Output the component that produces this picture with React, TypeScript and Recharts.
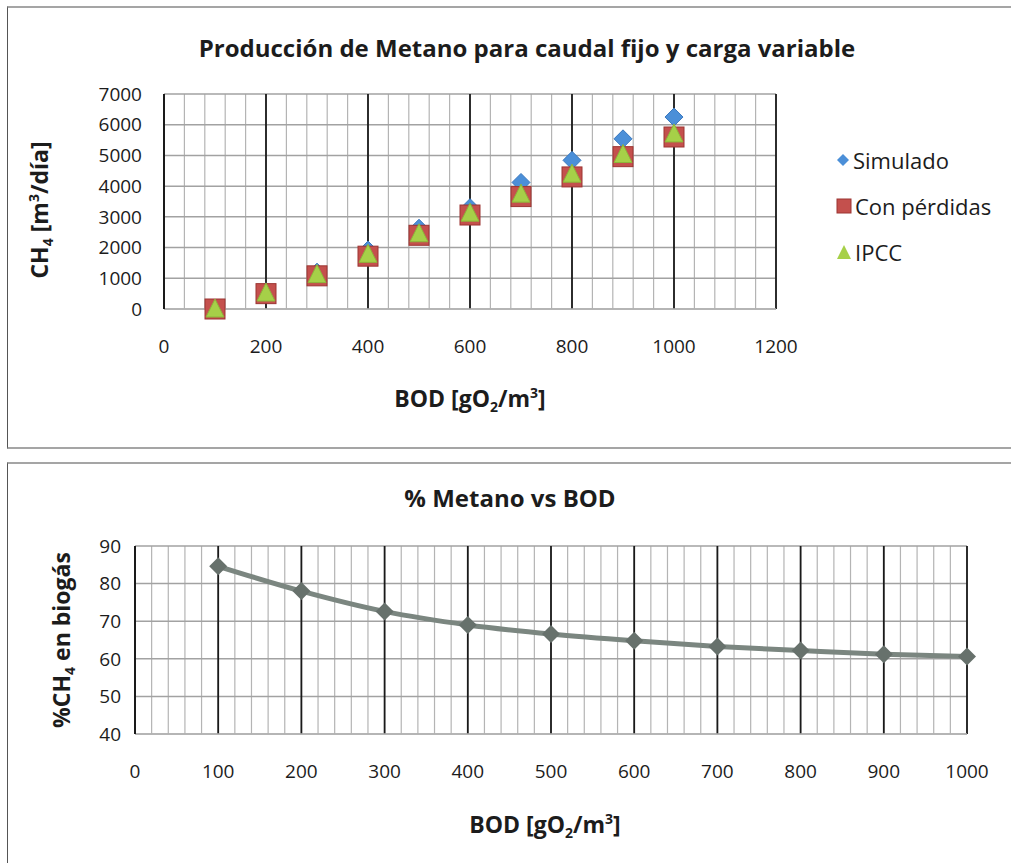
import { ScatterChart, Scatter, LineChart, Line, XAxis, YAxis, CartesianGrid } from "recharts";

// BOD levels [gO2/m3]
const bodLevels = [100, 200, 300, 400, 500, 600, 700, 800, 900, 1000];

// CH4 production [m3/día]
const simulado = [30, 560, 1200, 1920, 2630, 3300, 4120, 4840, 5540, 6250];
const conPerdidas = [0, 500, 1080, 1720, 2400, 3060, 3660, 4300, 4960, 5600];
const ipcc = [0, 520, 1120, 1780, 2450, 3120, 3740, 4390, 5030, 5700];

// % CH4 in biogas
const methanePct = [84.6, 78.0, 72.6, 69.0, 66.6, 64.8, 63.3, 62.2, 61.2, 60.6];

const topXTicks = [0, 200, 400, 600, 800, 1000, 1200];
const topYTicks = [0, 1000, 2000, 3000, 4000, 5000, 6000, 7000];
const bottomXTicks = [0, 100, 200, 300, 400, 500, 600, 700, 800, 900, 1000];
const bottomYTicks = [40, 50, 60, 70, 80, 90];

const seriesNames = ["Simulado", "Con pérdidas", "IPCC"];

const FONT = "'Open Sans', sans-serif";
const TEXT = "#1c1c1c";
const GRID = "#b4b4b4";
const MAJOR = "#1a1a1a";

const minorTicks = (max: number, step: number) =>
  Array.from({ length: Math.round(max / step) + 1 }, (_, i) => i * step);

// minor vertical grid positions through the x axis scale
const minorGrid = (ticks: number[]) => (props: any) => {
  const axis = props.xAxis;
  const scale = axis?.scale;
  if (typeof scale === "function") return ticks.map((t) => scale(t));
  if (scale && typeof scale.map === "function") return ticks.map((t) => scale.map(t));
  return [];
};

const topRows = (values: number[]) => bodLevels.map((x, i) => ({ x, y: values[i] }));
const bottomRows = bodLevels.map((x, i) => ({ x, y: methanePct[i] }));

function DiamondShape(props: any) {
  const { cx, cy } = props;
  return (
    <polygon
      points={`${cx},${cy - 9} ${cx + 9},${cy} ${cx},${cy + 9} ${cx - 9},${cy}`}
      fill="#4b8fd8"
      stroke="#3a78bf"
      strokeWidth={1}
    />
  );
}

function SquareShape(props: any) {
  const { cx, cy } = props;
  return <rect x={cx - 10} y={cy - 10} width={20} height={20} fill="#c4504d" stroke="#9c3532" strokeWidth={1} />;
}

function TriangleShape(props: any) {
  const { cx, cy } = props;
  return (
    <polygon
      points={`${cx},${cy - 10} ${cx + 9},${cy + 8} ${cx - 9},${cy + 8}`}
      fill="#a6d048"
      stroke="#8db53a"
      strokeWidth={1}
    />
  );
}

function GreyDiamondDot(props: any) {
  const { cx, cy } = props;
  if (cx == null || cy == null) return null;
  return (
    <polygon
      points={`${cx},${cy - 9} ${cx + 9},${cy} ${cx},${cy + 9} ${cx - 9},${cy}`}
      fill="#67716c"
    />
  );
}

const legendIcons = [
  <svg width="14" height="14" key="d">
    <polygon points="7,1 13,7 7,13 1,7" fill="#4b8fd8" />
  </svg>,
  <svg width="16" height="16" key="s">
    <rect x="1" y="1" width="14" height="14" fill="#c4504d" stroke="#9c3532" />
  </svg>,
  <svg width="16" height="16" key="t">
    <polygon points="8,1 15,15 1,15" fill="#a6d048" />
  </svg>,
];

const tickStyle = { fill: TEXT, fontSize: 19, fontFamily: FONT };

function TopChart() {
  return (
    <div style={{ position: "absolute", left: 0, top: 0 }}>
      <ScatterChart width={1011} height={445} margin={{ top: 94, right: 235, bottom: 106, left: 104 }}>
        <XAxis
          type="number"
          dataKey="x"
          domain={[0, 1200]}
          ticks={topXTicks}
          interval={0}
          height={30}
          tickSize={0}
          tickMargin={31}
          tick={tickStyle}
          axisLine={{ stroke: GRID, strokeWidth: 1.5 }}
        />
        <YAxis
          type="number"
          dataKey="y"
          domain={[0, 7000]}
          ticks={topYTicks}
          interval={0}
          width={60}
          tickSize={0}
          tickMargin={22}
          tick={tickStyle}
          axisLine={{ stroke: MAJOR, strokeWidth: 2 }}
        />
        <CartesianGrid
          horizontal={false}
          verticalCoordinatesGenerator={minorGrid(minorTicks(1200, 40))}
          stroke={GRID}
          strokeWidth={1.2}
        />
        <CartesianGrid vertical={false} stroke="#a2a2a2" strokeWidth={1.5} />
        <CartesianGrid horizontal={false} stroke={MAJOR} strokeWidth={1.8} />
        <Scatter name={seriesNames[0]} data={topRows(simulado)} shape={<DiamondShape />} isAnimationActive={false} />
        <Scatter name={seriesNames[1]} data={topRows(conPerdidas)} shape={<SquareShape />} isAnimationActive={false} />
        <Scatter name={seriesNames[2]} data={topRows(ipcc)} shape={<TriangleShape />} isAnimationActive={false} />
      </ScatterChart>
    </div>
  );
}

function BottomChart() {
  return (
    <div style={{ position: "absolute", left: 0, top: 455 }}>
      <LineChart width={1011} height={408} data={bottomRows} margin={{ top: 91, right: 44, bottom: 99, left: 75 }}>
        <XAxis
          type="number"
          dataKey="x"
          domain={[0, 1000]}
          ticks={bottomXTicks}
          interval={0}
          height={30}
          tickSize={0}
          tickMargin={31}
          tick={tickStyle}
          axisLine={{ stroke: GRID, strokeWidth: 1.5 }}
        />
        <YAxis
          type="number"
          domain={[40, 90]}
          ticks={bottomYTicks}
          interval={0}
          width={60}
          tickSize={0}
          tickMargin={14}
          tick={tickStyle}
          axisLine={{ stroke: MAJOR, strokeWidth: 2 }}
        />
        <CartesianGrid
          horizontal={false}
          verticalCoordinatesGenerator={minorGrid(minorTicks(1000, 20))}
          stroke={GRID}
          strokeWidth={1.2}
        />
        <CartesianGrid vertical={false} stroke="#a2a2a2" strokeWidth={1.5} />
        <CartesianGrid horizontal={false} stroke={MAJOR} strokeWidth={1.8} />
        <Line
          type="monotone"
          dataKey="y"
          stroke="#7b8680"
          strokeWidth={5}
          dot={<GreyDiamondDot />}
          activeDot={false}
          isAnimationActive={false}
        />
      </LineChart>
    </div>
  );
}

export default function App() {
  const bold = { fontFamily: FONT, fontWeight: 700, color: TEXT, position: "absolute" as const, whiteSpace: "nowrap" as const };
  const sub = { fontSize: 14 };
  return (
    <div style={{ position: "absolute", left: 0, top: 0, width: 1011, height: 863, background: "#fff", overflow: "hidden" }}>
      {/* frames */}
      <div style={{ position: "absolute", left: 7, top: 6, width: 1010, height: 439, borderLeft: "1.5px solid #555", borderTop: "2px solid #a5a5a5", borderBottom: "2px solid #a5a5a5" }} />
      <div style={{ position: "absolute", left: 7, top: 462, width: 1010, height: 420, borderLeft: "1.5px solid #555", borderTop: "2px solid #a5a5a5" }} />

      <TopChart />
      <BottomChart />

      {/* top chart texts */}
      <div style={{ ...bold, left: 527, top: 47, transform: "translate(-50%, -50%)", fontSize: 24 }}>
        Producción de Metano para caudal fijo y carga variable
      </div>
      <div style={{ ...bold, left: 40, top: 210, transform: "translate(-50%, -50%) rotate(-90deg)", fontSize: 23 }}>
        CH<sub style={sub}>4</sub> [m<sup style={sub}>3</sup>/día]
      </div>
      <div style={{ ...bold, left: 470, top: 399, transform: "translate(-50%, -50%)", fontSize: 23 }}>
        BOD [gO<sub style={sub}>2</sub>/m<sup style={sub}>3</sup>]
      </div>
      {seriesNames.map((name, i) => (
        <div
          key={name}
          style={{ position: "absolute", left: 836, top: 160 + i * 46, transform: "translateY(-50%)", display: "flex", alignItems: "center", gap: 3, fontFamily: FONT, fontSize: 22, color: TEXT }}
        >
          {legendIcons[i]}
          <span>{name}</span>
        </div>
      ))}

      {/* bottom chart texts */}
      <div style={{ ...bold, left: 510, top: 497, transform: "translate(-50%, -50%)", fontSize: 24 }}>
        % Metano vs BOD
      </div>
      <div style={{ ...bold, left: 62, top: 640, transform: "translate(-50%, -50%) rotate(-90deg)", fontSize: 23 }}>
        %CH<sub style={sub}>4</sub> en biogás
      </div>
      <div style={{ ...bold, left: 545, top: 825, transform: "translate(-50%, -50%)", fontSize: 23 }}>
        BOD [gO<sub style={sub}>2</sub>/m<sup style={sub}>3</sup>]
      </div>
    </div>
  );
}
